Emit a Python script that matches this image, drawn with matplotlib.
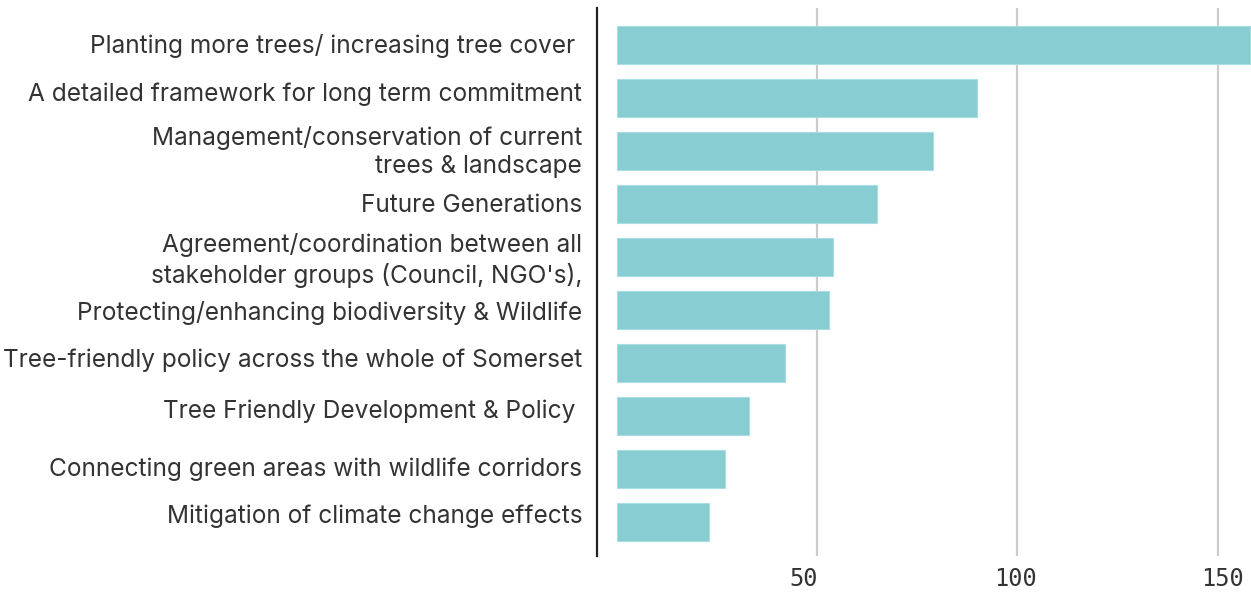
import numpy as np
import matplotlib.pyplot as plt
from matplotlib.transforms import offset_copy

# Priorities mentioned by respondents, most frequent first
categories = [
    "Planting more trees/ increasing tree cover ",
    "A detailed framework for long term commitment",
    "Management/conservation of current\ntrees & landscape",
    "Future Generations",
    "Agreement/coordination between all\nstakeholder groups (Council, NGO's),",
    "Protecting/enhancing biodiversity & Wildlife",
    "Tree-friendly policy across the whole of Somerset",
    "Tree Friendly Development & Policy ",
    "Connecting green areas with wildlife corridors",
    "Mitigation of climate change effects",
]
counts = [158, 90, 79, 65, 54, 53, 42, 33, 27, 23]
xticks = [50, 100, 150]

bar_color = "#87cdd2"
text_color = "#333333"

fig = plt.figure(figsize=(12.51, 5.92), dpi=100)
ax = fig.add_axes([0.4776, 0.0608, 1 - 0.4776, 0.9865 - 0.0608])

y = np.arange(len(categories))
ax.barh(y, counts, height=0.72, color=bar_color, edgecolor="#a9dde1",
        linewidth=0.8, zorder=2)

ax.set_xlim(-4.8, 158.3)
ax.set_ylim(9.64, -0.70)

ax.set_yticks(y)
ax.set_yticklabels(categories, family=["Inter", "DejaVu Sans"], fontsize=17.6,
                   color=text_color, linespacing=1.3)
ax.set_xticks(xticks)
ax.set_xticklabels([str(t) for t in xticks], family="DejaVu Sans Mono",
                   fontsize=17, color=text_color)
ax.tick_params(axis="y", length=0, pad=11)
ax.tick_params(axis="x", length=0, pad=8)

# small per-label nudges (points) so labels sit where the layout wants them
y_nudge = [1, 4.5, 3, 1, 1.5, 0, 4, 5, 2, 6]
for lab, dy in zip(ax.get_yticklabels(), y_nudge):
    lab.set_transform(offset_copy(lab.get_transform(), fig=fig, y=dy, units="points"))
x_nudge = [-10, -1.5, 3.5]
for lab, dx in zip(ax.get_xticklabels(), x_nudge):
    lab.set_transform(offset_copy(lab.get_transform(), fig=fig, x=dx, units="points"))

ax.grid(axis="x", color="#cccccc", linewidth=1.6, zorder=0)
ax.set_axisbelow(True)

for side in ["top", "right", "bottom"]:
    ax.spines[side].set_visible(False)
ax.spines["left"].set_color("#222222")
ax.spines["left"].set_linewidth(1.6)

fig.savefig("out.png", dpi=100)
